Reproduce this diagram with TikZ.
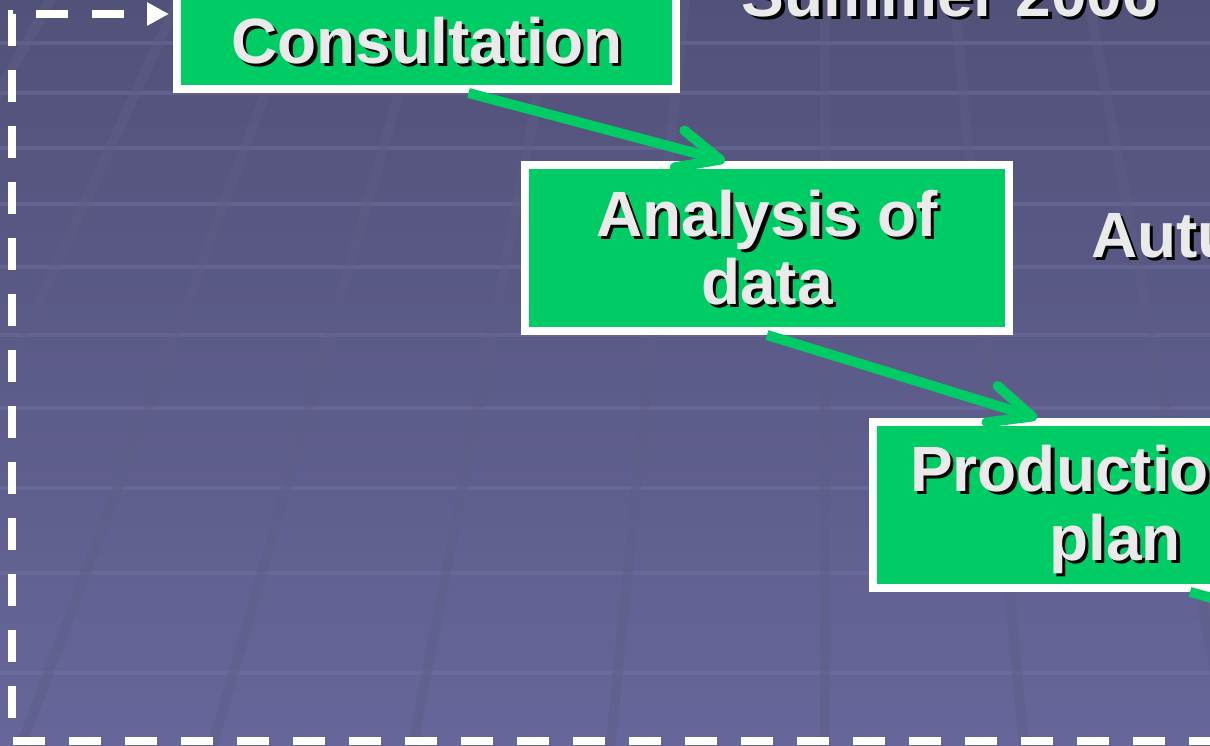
\documentclass[tikz,border=0pt]{standalone}
\usepackage{fontspec}
\setmainfont{Liberation Sans}
\usetikzlibrary{arrows.meta,calc}
\definecolor{bgtop}{RGB}{82,81,121}
\definecolor{bgbot}{RGB}{102,102,154}
\definecolor{boxgreen}{RGB}{0,204,102}
\definecolor{txtgray}{RGB}{234,234,234}
\definecolor{hline}{RGB}{114,114,162}
\definecolor{vline}{RGB}{94,94,134}
\newcommand{\shtxt}[1]{\leavevmode\rlap{\kern3.5pt\raisebox{-3.5pt}{\color{black}#1}}#1}
\tikzset{
  box/.style={draw=white, line width=8pt, fill=boxgreen, inner sep=0pt,
              minimum width=484pt, minimum height=166pt},
  lbl/.style={text=txtgray, font=\bfseries\fontsize{64}{68}\selectfont,
              inner sep=0pt, anchor=base},
  flow/.style={draw=boxgreen, line width=10pt,
               -{Straight Barb[length=42pt,width=38pt,round]}},
  dashline/.style={draw=white, line width=8pt, dash pattern=on 32pt off 24pt,
               -{Triangle[length=22pt,width=22pt]}},
  hgrid/.style={draw=hline, line width=3.5pt, opacity=.45},
  vgrid/.style={draw=vline, line width=10pt, opacity=.45}
}
\begin{document}
\begin{tikzpicture}[x=1pt,y=-1pt]
\useasboundingbox (0,0) rectangle (1210,745);
\clip (0,0) rectangle (1210,745);
% background
\shade[top color=bgtop, bottom color=bgbot] (0,0) rectangle (1210,745);
\foreach \yy in {43,93,148,204,267,335,408,488,573,673}
  \draw[hgrid] (0,\yy) -- (1210,\yy);
\foreach \xx in {-160,3,158,317,483,647,825,990,1160,1330}
  \draw[vgrid] ({825+(\xx-825)*0.781},-10) -- ({825+(\xx-825)*1.236},800);
% boxes
\node[box, minimum width=499pt] (b1) at (426.5,6) {};
\node[box] (b2) at (767,248) {};
\node[box] (b3) at (1115,505) {};
% dashed feedback line
\coordinate (ds) at (1276.5,740.5);
\coordinate (c1) at (11.5,740.5);
\coordinate (c2) at (11.5,14);
\draw[dashline] (ds) -- (c1) -- (c2) -- ($(b1.west)+(-4,8)$);
% arrows
\coordinate (off) at (1400,650);
\draw[flow] ($(b1.south)+(42,0)$) -- ($(b2.north)+(-42,0)$);
\draw[flow] (b2.south) -- ($(b3.north)+(-78,0)$);
\draw[flow] ($(b3.south)+(75,0)$) -- (off);
% texts
\node[lbl] (t1) at (427,63) {\shtxt{Consultation}};
\node[lbl] (t2a) at (767,236) {\shtxt{Analysis of}};
\node[lbl] (t2b) at (767,304) {\shtxt{data}};
\node[lbl, anchor=base west] (t3a) at (910,491) {\shtxt{Production}};
\node[lbl] (t3b) at (1115,560) {\shtxt{plan}};
\node[lbl] (ts) at (950,16) {\shtxt{Summer 2006}};
\node[lbl, anchor=base west] (ta) at (1091,257) {\shtxt{Autumn}};
\end{tikzpicture}
\end{document}
